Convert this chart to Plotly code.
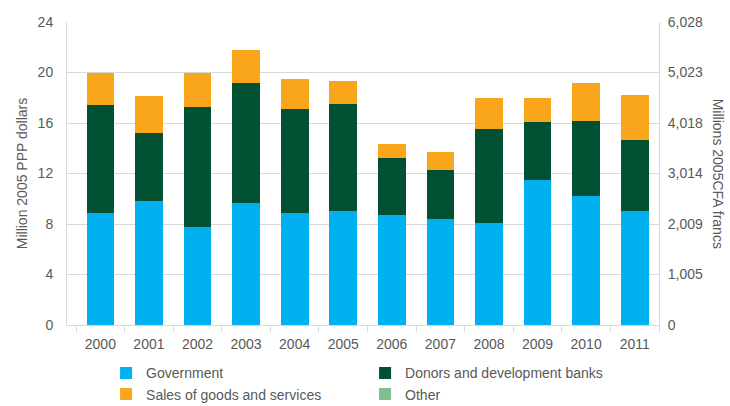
import plotly.graph_objects as go

years = [str(y) for y in range(2000, 2012)]
government = [8.9, 9.85, 7.75, 9.7, 8.9, 9.05, 8.7, 8.4, 8.05, 11.45, 10.2, 9.0]
donors = [8.5, 5.35, 9.55, 9.5, 8.2, 8.45, 4.55, 3.85, 7.45, 4.6, 5.95, 5.65]
sales = [2.6, 2.9, 2.7, 2.6, 2.35, 1.85, 1.1, 1.45, 2.45, 1.9, 3.05, 3.55]
other = [0, 0, 0, 0, 0, 0, 0, 0, 0, 0, 0, 0]

left_ticks = [0, 4, 8, 12, 16, 20, 24]
right_ticks = [0, 1005, 2009, 3014, 4018, 5023, 6028]
right_labels = ["0", "1,005", "2,009", "3,014", "4,018", "5,023", "6,028"]

FONT = "Liberation Sans"
TXT = "#595959"
GRID = "#d9d9d9"

fig = go.Figure()
for name, vals, col in [
    ("Government", government, "#00b0f0"),
    ("Donors and development banks", donors, "#005031"),
    ("Sales of goods and services", sales, "#f9a61c"),
    ("Other", other, "#7fbf8f"),
]:
    fig.add_trace(go.Bar(x=years, y=vals, name=name, marker=dict(color=col, line=dict(width=0))))

fig.add_trace(go.Scatter(x=[years[0]], y=[0], yaxis="y2", mode="markers",
                         marker=dict(opacity=0), showlegend=False, hoverinfo="skip"))

fig.update_layout(
    width=730, height=406,
    margin=dict(l=67, r=71, t=22, b=81, autoexpand=False),
    paper_bgcolor="white", plot_bgcolor="white",
    barmode="stack", bargap=0.43,
    font=dict(family=FONT, size=14, color=TXT),
    xaxis=dict(
        showline=True, linecolor=GRID, linewidth=1,
        ticks="outside", tickson="boundaries", ticklen=6, tickcolor=GRID,
        tickfont=dict(size=14, color=TXT), ticklabelstandoff=6,
    ),
    yaxis=dict(
        range=[0, 24], tickvals=left_ticks, showgrid=True, gridcolor=GRID,
        showline=True, linecolor=GRID, linewidth=1, zeroline=False,
        ticks="", tickfont=dict(size=14, color=TXT), ticklabelstandoff=10,
        title=dict(text="Million 2005 PPP dollars", font=dict(size=14, color=TXT), standoff=6),
    ),
    yaxis2=dict(
        range=[0, 6028], tickvals=right_ticks, ticktext=right_labels,
        overlaying="y", side="right", showgrid=False, zeroline=False,
        showline=True, linecolor=GRID, linewidth=1, ticks="",
        tickfont=dict(size=14, color=TXT), ticklabelstandoff=5,
    ),
    legend=dict(
        orientation="h", x=0.066, xanchor="left",
        yref="container", y=0.12, yanchor="top",
        entrywidth=214, entrywidthmode="pixels",
        font=dict(size=14, color=TXT), traceorder="normal",
        itemwidth=30,
    ),
    annotations=[dict(
        text="Millions 2005CFA francs", textangle=90, xref="paper", yref="paper",
        x=1.101, y=0.5, showarrow=False, font=dict(size=14, color=TXT),
        xanchor="center", yanchor="middle",
    )],
)

fig.write_html("out.html")
